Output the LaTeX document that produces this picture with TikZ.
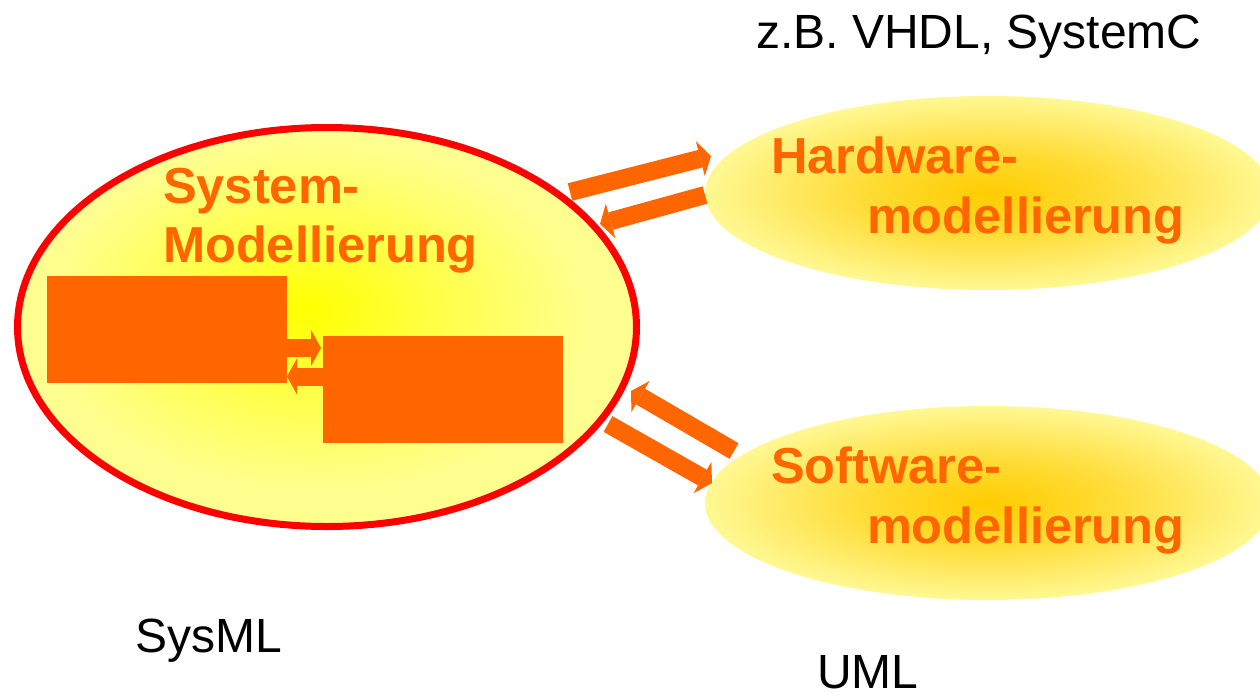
\documentclass[tikz,border=0pt]{standalone}
\usepackage{fontspec}
\setmainfont{Liberation Sans}
\usetikzlibrary{shapes.geometric,arrows.meta}

\definecolor{orng}{HTML}{FF6600}
\definecolor{rimred}{HTML}{FF0000}
\definecolor{sysA}{HTML}{FFFF00}
\definecolor{sysB}{HTML}{FFFF40}
\definecolor{sysC}{HTML}{FFFF90}
\definecolor{modA}{HTML}{FFCC00}
\definecolor{modB}{HTML}{FFDA30}
\definecolor{modC}{HTML}{FFF893}

% glow of the system ellipse (centre slightly up and left)
\pgfdeclareradialshading{sysglow}{\pgfpoint{-1.6bp}{2.3bp}}%
  {color(0bp)=(sysA); color(9bp)=(sysB); color(22bp)=(sysC); color(50bp)=(sysC)}
% glow of the hardware / software ellipses
\pgfdeclareradialshading{modglow}{\pgfpoint{0bp}{0bp}}%
  {color(0bp)=(modA); color(10bp)=(modB); color(25bp)=(modC); color(50bp)=(modC)}

\begin{document}
\begin{tikzpicture}[x=1pt,y=-1pt,
  sysell/.style={ellipse, draw=rimred, line width=7pt, inner sep=0pt,
    minimum width=619pt, minimum height=399pt, shade, shading=sysglow},
  modell/.style={ellipse, inner sep=0pt, minimum width=566pt,
    minimum height=194pt, shade, shading=modglow},
  blockbox/.style={rectangle, fill=orng, inner sep=0pt, outer sep=0pt,
    minimum width=240pt, minimum height=107pt},
  blockarrow/.style={draw=orng, line width=18pt,
    -{Triangle[length=10pt,width=36pt,line width=0pt]}},
  bigarrow/.style={draw=orng, line width=18pt,
    -{Triangle[length=11pt,width=36pt,line width=0pt]}},
  title/.style={anchor=base west, inner sep=0pt, outer sep=0pt, text=orng,
    font=\fontsize{50.6}{60}\selectfont\bfseries},
  note/.style={anchor=base west, inner sep=0pt, outer sep=0pt, text=black,
    font=\fontsize{48}{58}\selectfont}
]
\useasboundingbox (0,0) rectangle (1260,699);

% ellipses
\node[sysell] (sys) at (327,327) {};
\node[modell] (hw) at (988,193) {};
\node[modell] (sw) at (988,503) {};

% blocks inside the system model
\node[blockbox] (box1) at (167,329.5) {};
\node[blockbox] (box2) at (443,389.5) {};

\draw[blockarrow, shorten >=2pt] (box1.east |- 0,348) -- (box2.west |- 0,348);
\draw[blockarrow] (box2.west |- 0,376.5) -- (box1.east |- 0,376.5);

% ends of the exchange arrows
\coordinate (sysToHw) at (570,192);
\coordinate (hwIn)    at (711,156);
\coordinate (hwOut)   at (705,195);
\coordinate (sysFromHw) at (600,224);
\coordinate (swOut)   at (734,451);
\coordinate (sysFromSw) at (631,391);
\coordinate (sysToSw) at (608,424);
\coordinate (swIn)    at (712,483);

\draw[bigarrow] (sysToHw) -- (hwIn);
\draw[bigarrow] (hwOut) -- (sysFromHw);
\draw[bigarrow] (swOut) -- (sysFromSw);
\draw[bigarrow] (sysToSw) -- (swIn);

% labels
\node[title] (sysl1) at (163,203) {System-};
\node[title] (sysl2) at (163,262) {Modellierung};
\node[title] (hwl1) at (771,173) {Hardware-};
\node[title] (hwl2) at (867,233) {modellierung};
\node[title] (swl1) at (771,483) {Software-};
\node[title] (swl2) at (867,543) {modellierung};

\node[note] (hwlang) at (756,48) {z.B. VHDL, SystemC};
\node[note] (syslang) at (135,652) {SysML};
\node[note] (swlang) at (817,688) {UML};
\end{tikzpicture}
\end{document}
